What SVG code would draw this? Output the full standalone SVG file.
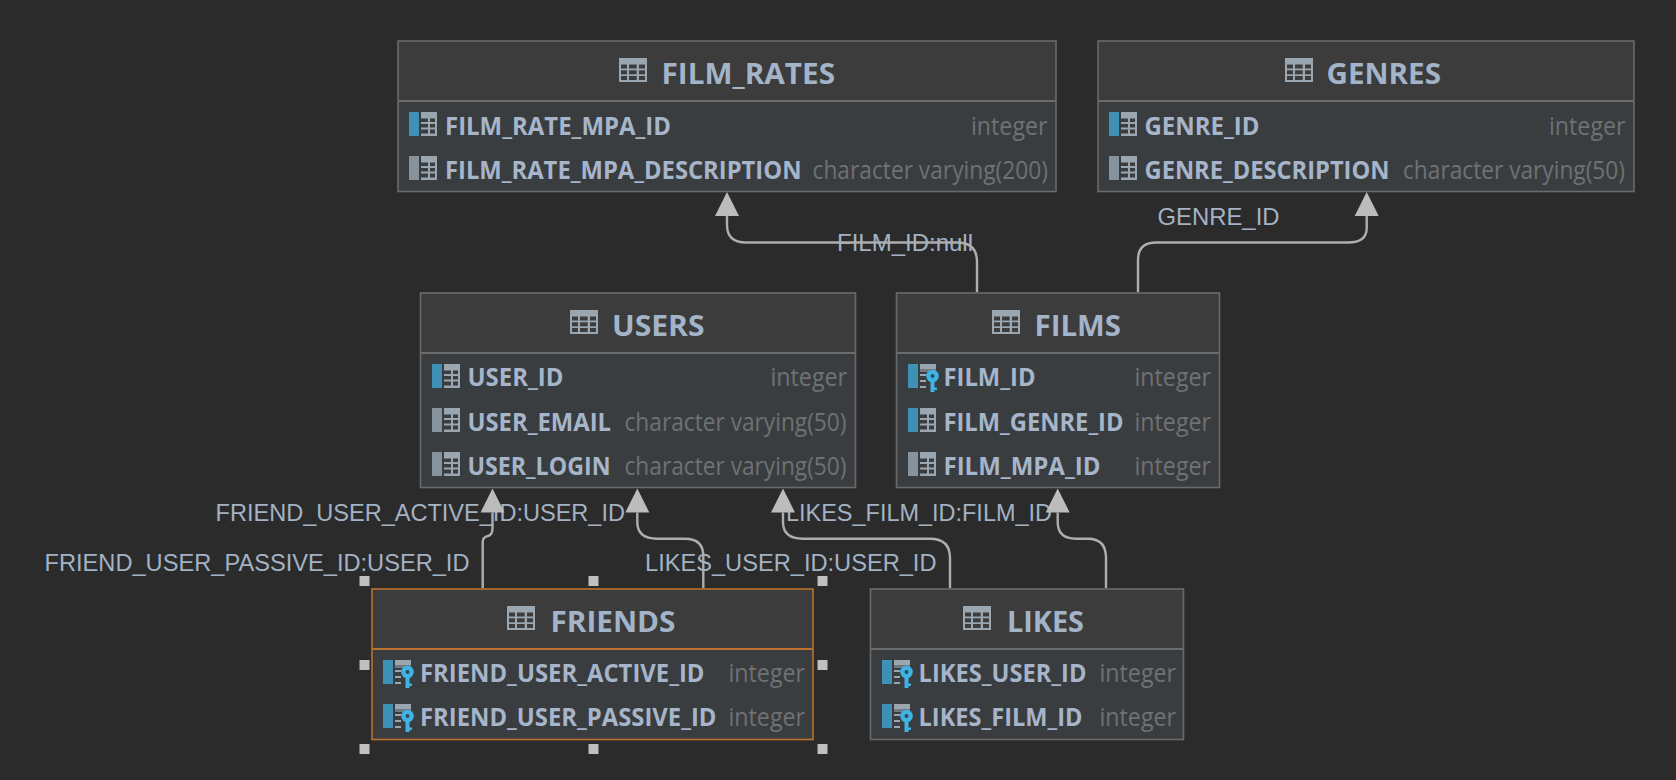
<svg xmlns="http://www.w3.org/2000/svg" width="1676" height="780" viewBox="0 0 1676 780">
<style>
.bg{fill:#2b2b2b}
.head{fill:#3c3c3c}
.body{fill:#3a3d40}
.frame{fill:none;stroke:#6a6a6a;stroke-width:1.6}
.sep{stroke:#6c6c6c;stroke-width:2.2}
.sel .frame{stroke:#bc702e}
.sel .sep{stroke:#bc702e}
text{font-family:"Open Sans","Noto Sans","Liberation Sans",sans-serif}
.title{font-size:29px;font-weight:700;fill:#a3b4c9}
.col{font-size:25.5px;font-weight:700;fill:#a6b5c9}
.type{font-size:25.5px;fill:#6f7173}
.lab{font-family:"Liberation Sans",Arial,sans-serif;font-size:24px;fill:#a3b2c4}
.conn{fill:none;stroke:#aeaeae;stroke-width:2.4;marker-end:url(#arr)}
.h{fill:#c0c0c0}
.k{fill:#3fb3e4}
.tb{fill:#9aa7b0}
.dk{fill:#3a3d40}
.dh{fill:#3c3c3c}
</style>
<defs>
<marker id="arr" markerUnits="userSpaceOnUse" markerWidth="26" markerHeight="26" refX="0" refY="12" orient="auto" overflow="visible"><path d="M0 0L24 12L0 24Z" fill="#bcbcbc"/></marker>
<g id="ti"><rect width="28" height="24" class="tb"/><g class="dh">
<rect x="2" y="6.500" width="6" height="4"/><rect x="10" y="6.500" width="7.700" height="4"/><rect x="20" y="6.500" width="6" height="4"/>
<rect x="2" y="12.300" width="6" height="4"/><rect x="10" y="12.300" width="7.700" height="4"/><rect x="20" y="12.300" width="6" height="4"/>
<rect x="2" y="18" width="6" height="4"/><rect x="10" y="18" width="7.700" height="4"/><rect x="20" y="18" width="6" height="4"/></g></g>
<g id="tc"><rect x="12" width="16" height="24" class="tb"/><g class="dk">
<rect x="12" y="6.500" width="7" height="3.500"/><rect x="12" y="12" width="7" height="3.500"/><rect x="12" y="17.500" width="7" height="4"/>
<rect x="21" y="6.500" width="5" height="3.500"/><rect x="21" y="12" width="5" height="3.500"/><rect x="21" y="17.500" width="5" height="4"/></g></g>
<g id="ca"><rect width="10" height="24" fill="#3e90b4"/><use href="#tc"/></g>
<g id="cg"><rect width="10" height="24" fill="#87939c"/><use href="#tc"/></g>
<g id="cp"><rect width="10" height="24" fill="#3e90b4"/>
<rect x="12" width="16" height="5" class="tb"/><rect x="12" y="5" width="16" height="3" fill="#6f7a82"/>
<rect x="12" y="10" width="6" height="2" class="tb"/><rect x="12" y="16" width="6" height="2" class="tb"/><rect x="12" y="22" width="6" height="2" class="tb"/>
<circle cx="24.500" cy="12" r="6.300" class="k"/><rect x="22.500" y="14" width="4" height="14" class="k"/><rect x="25.500" y="23.500" width="3.500" height="2.500" class="k"/><circle cx="24.500" cy="12" r="2" fill="#2f4a58"/></g>
</defs>
<rect class="bg" width="1676" height="780"/>

<g id="node-film-rates">
<rect class="head" x="398" y="41" width="658" height="60"/><rect class="body" x="398" y="101" width="658" height="90"/>
<line class="sep" x1="398" x2="1056" y1="101" y2="101"/><rect class="frame" x="398" y="41" width="658" height="150.500"/>
<use href="#ti" x="619" y="58"/><text class="title" x="661.500" y="84" textLength="173.500" lengthAdjust="spacingAndGlyphs">FILM_RATES</text>
<use href="#ca" x="409" y="112"/><text class="col" x="445" y="134.500" textLength="226" lengthAdjust="spacingAndGlyphs">FILM_RATE_MPA_ID</text><text class="type" x="971" y="134.500" textLength="76.500" lengthAdjust="spacingAndGlyphs">integer</text>
<use href="#cg" x="409" y="156"/><text class="col" x="445" y="178.500" textLength="356.500" lengthAdjust="spacingAndGlyphs">FILM_RATE_MPA_DESCRIPTION</text><text class="type" x="812.500" y="178.500" textLength="235.500" lengthAdjust="spacingAndGlyphs">character varying(200)</text>
</g>

<g id="node-genres">
<rect class="head" x="1098" y="41" width="536" height="60"/><rect class="body" x="1098" y="101" width="536" height="90"/>
<line class="sep" x1="1098" x2="1634" y1="101" y2="101"/><rect class="frame" x="1098" y="41" width="536" height="150.500"/>
<use href="#ti" x="1285" y="58"/><text class="title" x="1326.500" y="84" textLength="114.500" lengthAdjust="spacingAndGlyphs">GENRES</text>
<use href="#ca" x="1109" y="112"/><text class="col" x="1144.500" y="134.500" textLength="115" lengthAdjust="spacingAndGlyphs">GENRE_ID</text><text class="type" x="1549" y="134.500" textLength="76.500" lengthAdjust="spacingAndGlyphs">integer</text>
<use href="#cg" x="1109" y="156"/><text class="col" x="1144.500" y="178.500" textLength="245" lengthAdjust="spacingAndGlyphs">GENRE_DESCRIPTION</text><text class="type" x="1403" y="178.500" textLength="222" lengthAdjust="spacingAndGlyphs">character varying(50)</text>
</g>

<g id="node-users">
<rect class="head" x="420.500" y="293" width="435" height="60"/><rect class="body" x="420.500" y="353" width="435" height="134.500"/>
<line class="sep" x1="420.500" x2="855.500" y1="353" y2="353"/><rect class="frame" x="420.500" y="293" width="435" height="194.500"/>
<use href="#ti" x="570" y="310"/><text class="title" x="612" y="336" textLength="92.500" lengthAdjust="spacingAndGlyphs">USERS</text>
<use href="#ca" x="432" y="364"/><text class="col" x="467.500" y="386" textLength="96" lengthAdjust="spacingAndGlyphs">USER_ID</text><text class="type" x="770.500" y="386" textLength="76.500" lengthAdjust="spacingAndGlyphs">integer</text>
<use href="#cg" x="432" y="408"/><text class="col" x="467.500" y="430.500" textLength="143.500" lengthAdjust="spacingAndGlyphs">USER_EMAIL</text><text class="type" x="624.500" y="430.500" textLength="222" lengthAdjust="spacingAndGlyphs">character varying(50)</text>
<use href="#cg" x="432" y="452"/><text class="col" x="467.500" y="474.500" textLength="143" lengthAdjust="spacingAndGlyphs">USER_LOGIN</text><text class="type" x="624.500" y="474.500" textLength="222" lengthAdjust="spacingAndGlyphs">character varying(50)</text>
</g>

<g id="node-films">
<rect class="head" x="896.500" y="293" width="323" height="60"/><rect class="body" x="896.500" y="353" width="323" height="134.500"/>
<line class="sep" x1="896.500" x2="1219.500" y1="353" y2="353"/><rect class="frame" x="896.500" y="293" width="323" height="194.500"/>
<use href="#ti" x="992" y="310"/><text class="title" x="1034.500" y="336" textLength="86.500" lengthAdjust="spacingAndGlyphs">FILMS</text>
<use href="#cp" x="908" y="364"/><text class="col" x="943.500" y="386" textLength="92" lengthAdjust="spacingAndGlyphs">FILM_ID</text><text class="type" x="1134.500" y="386" textLength="76.500" lengthAdjust="spacingAndGlyphs">integer</text>
<use href="#ca" x="908" y="408"/><text class="col" x="943.500" y="430.500" textLength="180" lengthAdjust="spacingAndGlyphs">FILM_GENRE_ID</text><text class="type" x="1134.500" y="430.500" textLength="76.500" lengthAdjust="spacingAndGlyphs">integer</text>
<use href="#cg" x="908" y="452"/><text class="col" x="943.500" y="474.500" textLength="157" lengthAdjust="spacingAndGlyphs">FILM_MPA_ID</text><text class="type" x="1134.500" y="474.500" textLength="76.500" lengthAdjust="spacingAndGlyphs">integer</text>
</g>

<g id="node-friends" class="sel">
<rect class="head" x="372" y="589" width="441" height="60"/><rect class="body" x="372" y="649" width="441" height="90"/>
<line class="sep" x1="372" x2="813" y1="649" y2="649"/><rect class="frame" x="372" y="589" width="441" height="150.500"/>
<use href="#ti" x="507" y="606"/><text class="title" x="550.500" y="632" textLength="125" lengthAdjust="spacingAndGlyphs">FRIENDS</text>
<use href="#cp" x="383" y="660"/><text class="col" x="420" y="682" textLength="284.500" lengthAdjust="spacingAndGlyphs">FRIEND_USER_ACTIVE_ID</text><text class="type" x="728.500" y="682" textLength="76.500" lengthAdjust="spacingAndGlyphs">integer</text>
<use href="#cp" x="383" y="704"/><text class="col" x="420" y="726" textLength="296.500" lengthAdjust="spacingAndGlyphs">FRIEND_USER_PASSIVE_ID</text><text class="type" x="728.500" y="726" textLength="76.500" lengthAdjust="spacingAndGlyphs">integer</text>
<g id="selection-handles" class="h">
<rect x="359.500" y="576" width="10" height="10"/><rect x="588.500" y="576" width="10" height="10"/><rect x="817.500" y="576" width="10" height="10"/>
<rect x="359.500" y="660" width="10" height="10"/><rect x="817.500" y="660" width="10" height="10"/>
<rect x="359.500" y="744" width="10" height="10"/><rect x="588.500" y="744" width="10" height="10"/><rect x="817.500" y="744" width="10" height="10"/>
</g>
</g>

<g id="node-likes">
<rect class="head" x="870.500" y="589" width="313" height="60"/><rect class="body" x="870.500" y="649" width="313" height="90"/>
<line class="sep" x1="870.500" x2="1183.500" y1="649" y2="649"/><rect class="frame" x="870.500" y="589" width="313" height="150.500"/>
<use href="#ti" x="963" y="606"/><text class="title" x="1007" y="632" textLength="77" lengthAdjust="spacingAndGlyphs">LIKES</text>
<use href="#cp" x="882" y="660"/><text class="col" x="918.500" y="682" textLength="168" lengthAdjust="spacingAndGlyphs">LIKES_USER_ID</text><text class="type" x="1099.500" y="682" textLength="76.500" lengthAdjust="spacingAndGlyphs">integer</text>
<use href="#cp" x="882" y="704"/><text class="col" x="918.500" y="726" textLength="164" lengthAdjust="spacingAndGlyphs">LIKES_FILM_ID</text><text class="type" x="1099.500" y="726" textLength="76.500" lengthAdjust="spacingAndGlyphs">integer</text>
</g>

<g id="labels">
<text class="lab" x="837" y="250.500" textLength="136" lengthAdjust="spacingAndGlyphs">FILM_ID:null</text>
<text class="lab" x="1157.500" y="225" textLength="122" lengthAdjust="spacingAndGlyphs">GENRE_ID</text>
<text class="lab" x="215.500" y="521" textLength="409.500" lengthAdjust="spacingAndGlyphs">FRIEND_USER_ACTIVE_ID:USER_ID</text>
<text class="lab" x="44.500" y="571" textLength="425" lengthAdjust="spacingAndGlyphs">FRIEND_USER_PASSIVE_ID:USER_ID</text>
<text class="lab" x="786" y="521" textLength="266" lengthAdjust="spacingAndGlyphs">LIKES_FILM_ID:FILM_ID</text>
<text class="lab" x="645" y="571" textLength="291.500" lengthAdjust="spacingAndGlyphs">LIKES_USER_ID:USER_ID</text>
</g>

<g id="connectors">
<path class="conn" d="M977 292V262Q977 242.500 957 242.500H746Q727 242.500 727 225V216"/>
<path class="conn" d="M1138 292V260Q1138 242.500 1156 242.500H1348Q1366.700 242.500 1366.700 228V216"/>
<path class="conn" d="M482.700 588V542Q482.700 537 488 536Q492.500 535 492.500 528V512.500"/>
<path class="conn" d="M703.300 588V556Q703.300 538.700 685 538.700H657Q637.300 538.700 637.300 522V512.500"/>
<path class="conn" d="M950 588V558Q950 538.700 930 538.700H803Q783 538.700 783 522V512.500"/>
<path class="conn" d="M1106 588V558Q1106 538.700 1088 538.700H1076Q1057.700 538.700 1057.700 522V512.500"/>
</g>
</svg>
